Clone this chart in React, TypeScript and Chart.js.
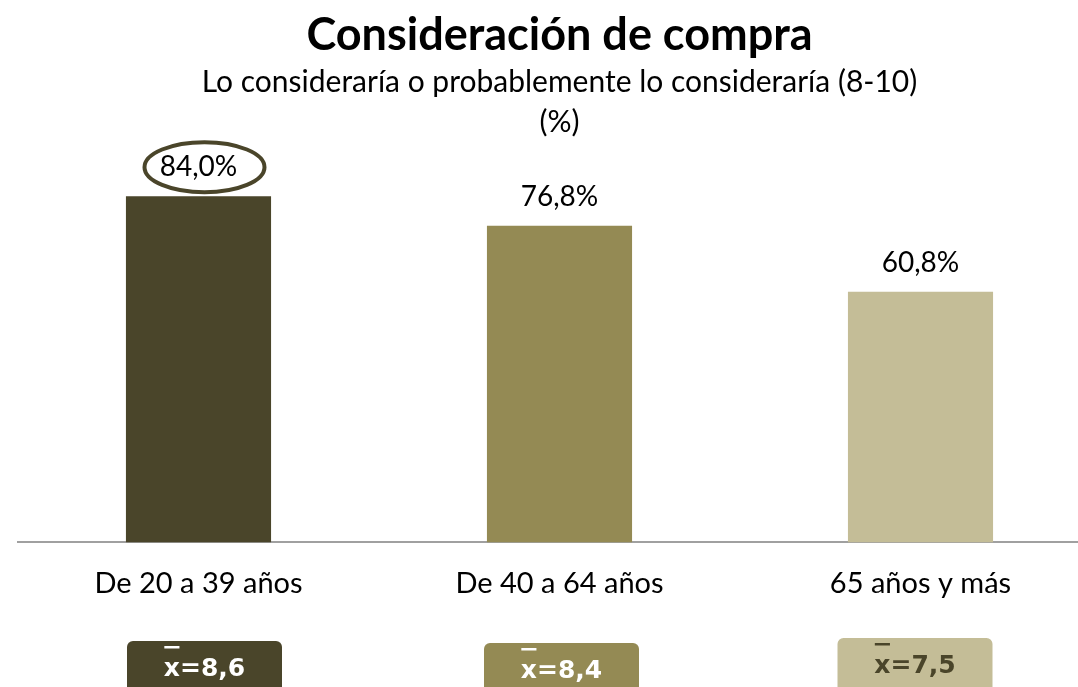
import React, { useEffect, useRef } from "react";
import { Chart, registerables } from "chart.js";

Chart.register(...registerables);

// ---- data ----
const chartTitle = "Consideración de compra";
const subtitleLines = ["Lo consideraría o probablemente lo consideraría (8-10)", "(%)"];
const categories = ["De 20 a 39 años", "De 40 a 64 años", "65 años y más"];
const values = [84.0, 76.8, 60.8];
const meanScores = ["8,6", "8,4", "7,5"];
const highlightedIndex = 0;

// ---- styles ----
const barColors = ["#4A452A", "#948A54", "#C4BD97"];
const meanTextColors = ["#FFFFFF", "#FFFFFF", "#4A452A"];
const meanBoxLayout = [
  { dx: 6, top: 641 },
  { dx: 2, top: 643 },
  { dx: -5.5, top: 638 },
];
const FONT = "Lato, 'Open Sans', sans-serif";
const BOX_FONT = "'DejaVu Sans', sans-serif";
const CANVAS_W = 1119;
const CANVAS_H = 687;

const annotate = {
  id: "annotate",
  afterDatasetsDraw(chart: any) {
    const ctx = chart.ctx as CanvasRenderingContext2D;
    const meta = chart.getDatasetMeta(0);
    const xScale = chart.scales.x;
    ctx.save();
    meta.data.forEach((bar: any, i: number) => {
      const { x, y } = bar.getProps(["x", "y"], true);
      // value label
      ctx.font = `28px ${FONT}`;
      ctx.fillStyle = "#000";
      ctx.textAlign = "center";
      ctx.textBaseline = "middle";
      const txt = values[i].toFixed(1).replace(".", ",") + "%";
      const ly = y - 29;
      ctx.fillText(txt, x, ly);
      if (i === highlightedIndex) {
        ctx.beginPath();
        ctx.ellipse(x + 6, ly, 60, 25, 0, 0, Math.PI * 2);
        ctx.lineWidth = 4;
        ctx.strokeStyle = barColors[i];
        ctx.stroke();
      }
      // mean box
      const lay = meanBoxLayout[i];
      const cx = xScale.getPixelForValue(i) + lay.dx;
      const w = 155;
      const top = lay.top;
      ctx.beginPath();
      (ctx as any).roundRect(cx - w / 2, top, w, 70, 6);
      ctx.fillStyle = barColors[i];
      ctx.fill();
      ctx.font = `bold 25px ${BOX_FONT}`;
      ctx.fillStyle = meanTextColors[i];
      const full = "x=" + meanScores[i];
      const tw = ctx.measureText(full).width;
      const xw = ctx.measureText("x").width;
      const sx = cx - tw / 2;
      ctx.textAlign = "left";
      ctx.textBaseline = "middle";
      ctx.fillText(full, sx, top + 28);
      ctx.fillRect(sx + 0.5, top + 5, xw - 1, 2.5);
    });
    ctx.restore();
  },
};

export default function App() {
  const ref = useRef<HTMLCanvasElement | null>(null);
  useEffect(() => {
    if (!ref.current) return;
    const chart = new Chart(ref.current, {
      type: "bar",
      data: {
        labels: categories,
        datasets: [
          {
            data: values,
            backgroundColor: barColors,
            categoryPercentage: 1,
            barPercentage: 0.402,
          },
        ],
      },
      options: {
        animation: false,
        responsive: false,
        devicePixelRatio: 1,
        layout: { padding: { left: 18, right: 18, top: 0, bottom: 61.8 } },
        plugins: {
          legend: { display: false },
          tooltip: { enabled: false },
          title: {
            display: true,
            text: chartTitle,
            color: "#000",
            font: { family: FONT, size: 45, weight: "bold", lineHeight: 0.8 },
            padding: { top: 17, bottom: 0 },
          },
          subtitle: {
            display: true,
            text: subtitleLines,
            color: "#000",
            font: { family: FONT, size: 30, lineHeight: 1.3333 },
            padding: { top: 9, bottom: 0 },
          },
        },
        scales: {
          x: {
            grid: { display: false, drawTicks: false },
            border: { display: true, color: "#A0A0A0", width: 2 },
            ticks: { color: "#000", font: { family: FONT, size: 29 }, padding: 24 },
          },
          y: { display: false, min: 0, max: 97.15 },
        },
      } as any,
      plugins: [annotate],
    });
    return () => chart.destroy();
  }, []);
  return (
    <div style={{ position: "fixed", left: 0, top: 0, width: "100vw", height: "100vh", overflow: "hidden", background: "#fff" }}>
      <canvas ref={ref} width={CANVAS_W} height={CANVAS_H} style={{ display: "block" }} />
    </div>
  );
}
